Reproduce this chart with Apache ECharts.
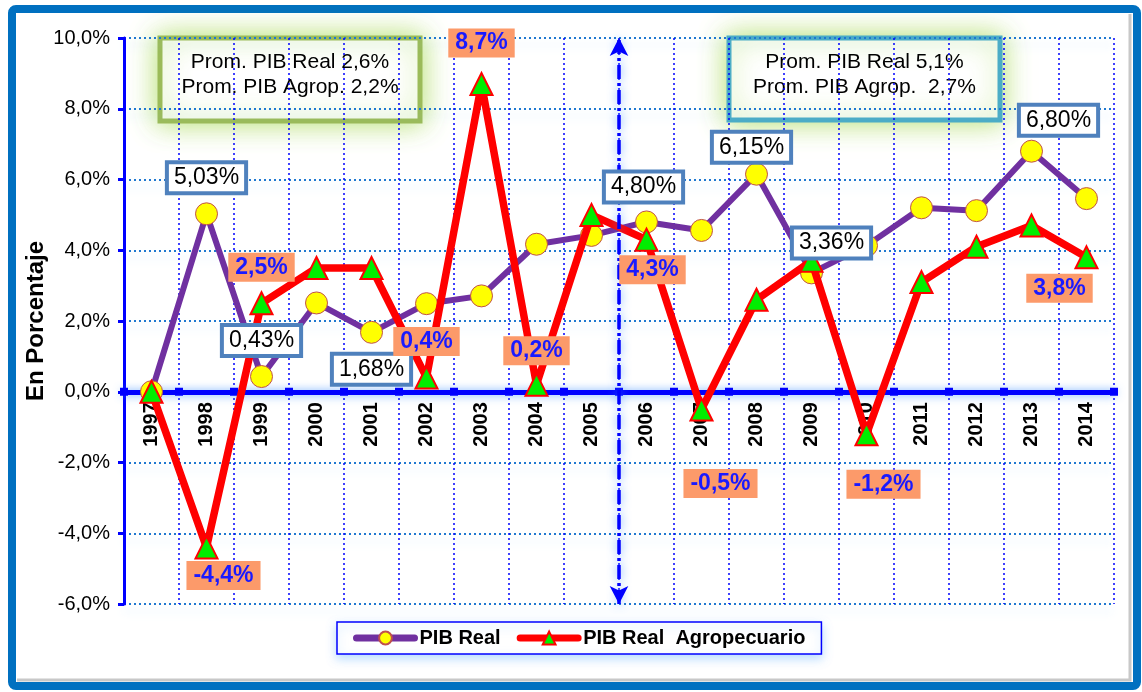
<!DOCTYPE html>
<html>
<head>
<meta charset="utf-8">
<script src="https://cdn.jsdelivr.net/npm/echarts@6/dist/echarts.min.js"></script>
<style>
  html, body { margin: 0; padding: 0; background: #fff; }
  #chart { width: 1142px; height: 692px; }
</style>
</head>
<body>
<div id="chart"></div>
<script>
// data
const years = ['1997','1998','1999','2000','2001','2002','2003','2004','2005','2006','2007','2008','2009','2010','2011','2012','2013','2014'];
const pibReal = [0.00, 5.03, 0.43, 2.51, 1.68, 2.49, 2.71, 4.17, 4.42, 4.80, 4.56, 6.15, 3.36, 4.13, 5.20, 5.12, 6.80, 5.46];
const pibAgro = [0.0, -4.4, 2.5, 3.5, 3.5, 0.4, 8.7, 0.2, 5.0, 4.3, -0.5, 2.6, 3.7, -1.2, 3.1, 4.1, 4.7, 3.8];
const yTicks = [-6, -4, -2, 0, 2, 4, 6, 8, 10];
const promLeft = ['Prom. PIB Real 2,6%', 'Prom. PIB Agrop. 2,2%'];
const promRight = ['Prom. PIB Real 5,1%', 'Prom. PIB Agrop.  2,7%'];

// which points carry a label, and where the label sits (px offset from the point)
const realLabelPos = { 1: [0, -36], 2: [0, -36], 4: [0, 37], 9: [-3, -35], 11: [-5, -27], 12: [20, -30], 16: [27, -31] };
const agroLabelPos = { 1: [17, 28], 2: [0, -36], 5: [0, -36], 6: [0, -41], 7: [0, -34], 9: [6, 30], 10: [19, 74], 13: [17, 50], 17: [-27, 31] };

const fmt = (v, d) => v.toFixed(d).replace('.', ',') + '%';

const realLabelData = Object.keys(realLabelPos).map(k => {
  const i = +k, v = pibReal[i];
  return {
    value: [i, v],
    label: {
      show: true, position: 'inside', offset: realLabelPos[k],
      formatter: fmt(v, 2),
      color: '#000', fontSize: 23, fontFamily: 'Arial, Liberation Sans',
      backgroundColor: '#fff', borderColor: '#4f81bd', borderWidth: 4,
      padding: [3, 5, 1, 5]
    }
  };
});

const agroLabelData = Object.keys(agroLabelPos).map(k => {
  const i = +k, v = pibAgro[i];
  return {
    value: [i, v],
    label: {
      show: true, position: 'inside', offset: agroLabelPos[k],
      formatter: fmt(v, 1),
      color: '#1a1aff', fontSize: 23, fontWeight: 'bold', fontFamily: 'Arial, Liberation Sans',
      backgroundColor: '#fc9a6a', padding: [4, 7, 2, 7]
    }
  };
});

const promBox = (x, y, w, h, stroke, lines) => ({
  type: 'group', z: 100,
  children: [
    { type: 'rect', shape: { x, y, width: w, height: h },
      style: { fill: '#fff', stroke, lineWidth: 5, shadowBlur: 26, shadowColor: 'rgba(170,220,90,0.85)' } },
    { type: 'text', x: x + w / 2, y: y + 24, style: { text: lines[0], fill: '#000', font: '21px Arial, Liberation Sans', align: 'center', verticalAlign: 'middle' } },
    { type: 'text', x: x + w / 2, y: y + 49, style: { text: lines[1], fill: '#000', font: '21px Arial, Liberation Sans', align: 'center', verticalAlign: 'middle' } }
  ]
});

const hiddenMark = { symbolSize: 1, silent: true, itemStyle: { color: 'rgba(0,0,0,0)', opacity: 1 } };

const chart = echarts.init(document.getElementById('chart'));

chart.setOption({
  animation: false,
  backgroundColor: '#fff',
  textStyle: { fontFamily: 'Arial, Liberation Sans' },
  grid: { left: 124, right: 28, top: 38, bottom: 88 },
  legend: {
    left: 337, top: 622,
    data: ['PIB Real', 'PIB Real  Agropecuario'],
    backgroundColor: '#fff', borderColor: '#0000ff', borderWidth: 1.5,
    padding: [6, 16, 6, 16], itemGap: 16, itemWidth: 58, itemHeight: 16,
    shadowBlur: 10, shadowColor: 'rgba(120,190,255,0.5)', shadowOffsetY: 4,
    lineStyle: { width: 7, cap: 'round' },
    textStyle: { fontSize: 20, fontWeight: 'bold', color: '#000' }
  },
  xAxis: [{
    type: 'category', data: years, boundaryGap: true,
    axisLine: { onZero: true, onZeroAxisIndex: 0, lineStyle: { color: '#0000ff', width: 5, shadowBlur: 8, shadowColor: 'rgba(60,140,255,0.7)' } },
    axisTick: { show: false },
    axisLabel: { show: false },
    splitLine: { show: true, interval: 0, lineStyle: { color: '#0000ff', width: 1.5, type: [2, 3] } }
  }, {
    type: 'value', min: -0.5, max: 17.5, show: false, axisLine: { onZero: false }
  }],
  yAxis: {
    type: 'value', min: -6, max: 10, interval: 2,
    name: 'En Porcentaje', nameLocation: 'middle', nameGap: 76, nameRotate: 90, nameMoveOverlap: false,
    nameTextStyle: { fontSize: 24, fontWeight: 'bold', color: '#000' },
    axisLine: { show: true, onZero: false, lineStyle: { color: '#0000ff', width: 3 } },
    axisTick: { show: true, length: 6, lineStyle: { color: '#0000ff', width: 3 } },
    axisLabel: {
      fontSize: 20, color: '#000', margin: 14,
      formatter: v => yTicks.includes(v) ? fmt(v, 1) : ''
    },
    splitLine: { lineStyle: { color: '#1f78d0', width: 2, type: [2, 3], shadowBlur: 8, shadowOffsetY: 7, shadowColor: 'rgba(120,190,255,0.45)' } }
  },
  series: [{
    name: 'divisor', type: 'line', xAxisIndex: 1, data: [[8.5, 0]], showSymbol: false, silent: true,
    lineStyle: { width: 0 },
    markLine: {
      silent: true, symbol: ['arrow', 'arrow'], symbolSize: [14, 18],
      label: { show: false },
      lineStyle: { color: '#0000ff', width: 3.5, type: [14, 4, 3, 4], shadowBlur: 10, shadowColor: 'rgba(60,140,255,0.8)' },
      data: [{ xAxis: 8.5 }]
    }
  }, {
    // year labels sitting on the zero line
    name: 'anios', type: 'scatter', xAxisIndex: 1, z: 2, ...hiddenMark,
    data: years.map((y, i) => [i, 0]),
    label: {
      show: true, position: 'bottom', distance: 10, rotate: 90,
      align: 'right', verticalAlign: 'middle',
      formatter: p => years[p.dataIndex],
      fontSize: 20, fontWeight: 'bold', color: '#000'
    }
  }, {
    // boundary ticks on the zero line
    name: 'marcas', type: 'scatter', xAxisIndex: 1, z: 2, silent: true,
    data: years.concat(['']).map((y, i) => [i - 0.5, 0]),
    symbol: 'rect', symbolSize: 8, itemStyle: { color: '#0000ff', opacity: 1 }
  }, {
    name: 'PIB Real', type: 'line', data: pibReal, z: 3,
    symbol: 'circle', symbolSize: 22,
    lineStyle: { color: '#7030a0', width: 6 },
    itemStyle: { color: '#ffff00', borderColor: '#c0504d', borderWidth: 1 }
  }, {
    name: 'PIB Real  Agropecuario', type: 'line', data: pibAgro, z: 4,
    symbol: 'triangle', symbolSize: 22,
    lineStyle: { color: '#ff0000', width: 7.5 },
    itemStyle: { color: '#00ee00', borderColor: '#ff0000', borderWidth: 2 }
  }, {
    name: 'etiquetasReal', type: 'scatter', xAxisIndex: 1, data: realLabelData, z: 10, ...hiddenMark
  }, {
    name: 'etiquetasAgro', type: 'scatter', xAxisIndex: 1, data: agroLabelData, z: 10, ...hiddenMark
  }],
  graphic: [
    { type: 'rect', z: -10, silent: true, shape: { x: 12, y: 9, width: 1125, height: 677, r: 4 },
      style: { fill: 'transparent', stroke: '#0070c0', lineWidth: 8 } },
    { type: 'polyline', z: -10, silent: true, shape: { points: [[1130, 14], [1130, 680], [17, 680]] },
      style: { fill: 'none', stroke: '#c8c8c8', lineWidth: 3 } },
    promBox(160, 38, 260, 83, '#9bbb59', promLeft),
    promBox(729, 38, 271, 82, '#4bacc6', promRight)
  ]
});
</script>
</body>
</html>
